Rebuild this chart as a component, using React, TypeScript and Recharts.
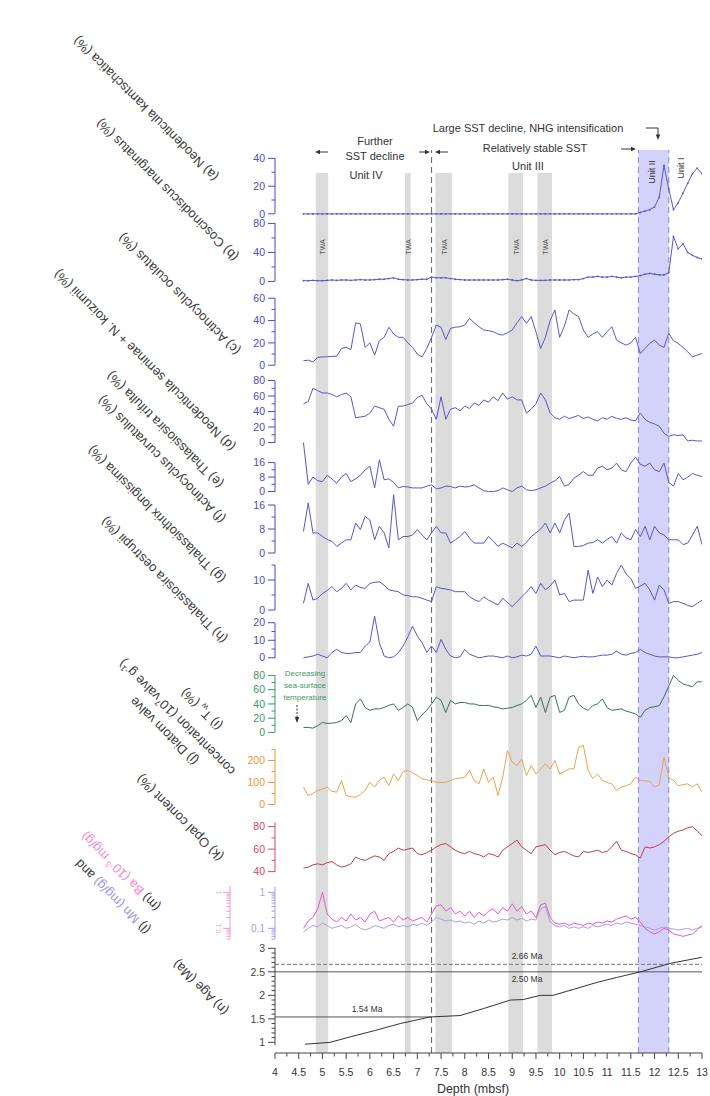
import React from 'react'
import { LineChart, Line, XAxis, YAxis, ReferenceArea, ReferenceLine } from 'recharts'

// depth grid (mbsf) shared by the diatom / geochem records
const DEPTH = [
  4.6, 4.7, 4.8, 4.9, 5.0, 5.1, 5.2, 5.3, 5.4, 5.5,
  5.6, 5.7, 5.8, 5.9, 6.0, 6.1, 6.2, 6.3, 6.4, 6.5,
  6.6, 6.7, 6.8, 6.9, 7.0, 7.1, 7.2, 7.3, 7.4, 7.5,
  7.6, 7.7, 7.8, 7.9, 8.0, 8.1, 8.2, 8.3, 8.4, 8.5,
  8.6, 8.7, 8.8, 8.9, 9.0, 9.1, 9.2, 9.3, 9.4, 9.5,
  9.6, 9.7, 9.8, 9.9, 10.0, 10.1, 10.2, 10.3, 10.4, 10.5,
  10.6, 10.7, 10.8, 10.9, 11.0, 11.1, 11.2, 11.3, 11.4, 11.5,
  11.6, 11.7, 11.8, 11.9, 12.0, 12.1, 12.2, 12.3, 12.4, 12.5,
  12.6, 12.7, 12.8, 12.9, 13.0,
]

const KAMTSCHATICA = [
  0, 0, 0, 0, 0, 0, 0, 0, 0, 0,
  0, 0, 0, 0, 0, 0, 0, 0, 0, 0,
  0, 0, 0, 0, 0, 0, 0, 0, 0, 0,
  0, 0, 0, 0, 0, 0, 0, 0, 0, 0,
  0, 0, 0, 0, 0, 0, 0, 0, 0, 0,
  0, 0, 0, 0, 0, 0, 0, 0, 0, 0,
  0, 0, 0, 0, 0, 0, 0, 0, 0, 0,
  0, 1, 2, 3, 5, 12, 35, 18, 3, 8,
  15, 22, 29, 33, 29,
]

const MARGINATUS = [
  1, 1, 1.5, 1, 1, 1.5, 2, 1.5, 2, 2,
  1.5, 2, 2.5, 2, 2, 2.5, 3, 3, 4, 5,
  3, 2.5, 2, 2, 2.5, 3, 3, 6, 5, 5,
  5, 4, 3, 2.5, 2, 2, 2, 2, 2, 2,
  2, 2, 2.5, 3, 2, 1, 2, 4, 2, 1.5,
  1.5, 1.5, 2, 2, 2, 2, 2, 2.5, 2.5, 4,
  6, 6, 7, 6, 6, 7, 6, 5, 6, 6,
  7, 8, 10, 11, 10, 9, 9, 12, 62, 45,
  52, 40, 36, 33, 31,
]

const OCULATUS = [
  4, 4.5, 3, 7, 7.5, 7.5, 8, 8, 15, 16,
  14, 38, 37, 16, 20, 9, 22, 25, 34, 28,
  25, 25, 20, 16, 10, 7.5, 15, 25, 36, 34,
  23, 33, 34, 34.5, 36, 42, 38, 34.5, 31.5, 31,
  30, 28, 27, 29, 31.5, 38, 43.5, 37.5, 43.5, 30,
  15, 25, 40, 49.5, 25, 35, 49.5, 46, 43.5, 31.5,
  25, 28, 30, 25, 30, 34.5, 22.5, 20, 18, 20,
  25, 10.5, 15, 19.5, 22.5, 18, 16, 28.5, 22, 19.5,
  16, 12, 7.5, 9, 10.5,
]

const SEMINAE = [
  50, 53, 70, 67, 64, 64, 62, 59, 62, 64,
  59, 32, 33, 34, 38, 47, 45, 43, 30, 21,
  47, 47, 49, 51, 58, 61, 50, 43, 30, 59,
  30, 43, 45, 41, 47, 44, 51, 48, 55, 52,
  59, 54, 64, 56, 59, 55, 55, 38, 43, 50,
  64, 55, 38, 32, 30, 34, 31, 33, 35, 31,
  33, 30, 28, 32, 30, 34, 31, 30, 32, 29,
  28, 38, 30, 26, 24, 21, 12, 8, 10, 9,
  10, 2, 3, 2, 2,
]

const TRIFULTA = [
  27, 4, 8, 6, 5.5, 9, 7, 4.6, 8, 10,
  5.5, 7, 9, 12, 14, 2, 17.5, 6.5, 7, 5,
  2, 2.8, 2.5, 2, 2, 2, 3, 3.7, 1.5, 2,
  3, 2.8, 2, 3, 2.5, 2.8, 3.7, 2, 0.5, 0,
  0, 0.5, 2, 1, 0, 2, 3, 1, 0.5, 1,
  2, 3, 4.6, 6, 8.3, 3, 4, 7.4, 9, 11,
  9, 9, 13, 14, 12, 13, 15.7, 12, 11, 15.7,
  19, 15, 14, 15.7, 12, 11, 15.7, 5, 3, 10,
  6.5, 8, 10, 9, 8.3,
]

const CURVATULUS = [
  7.2, 16.7, 6.7, 6.7, 5.5, 4.5, 3.9, 2.2, 3.3, 4.4,
  4.4, 10, 7.8, 12.2, 11, 4.4, 8.9, 6.7, 1.7, 19.4,
  4.4, 5.5, 5.5, 6, 7.8, 6, 4.4, 6.7, 8.9, 6.7,
  6.7, 3.3, 4.4, 5.5, 7.2, 5, 3.3, 3.3, 3.3, 5.5,
  4, 2.2, 3.3, 2.5, 1.7, 3.3, 2.2, 3.5, 5.5, 6.7,
  8, 10, 6.7, 10, 6.7, 11, 13.3, 2.2, 2.2, 2.5,
  3.3, 3.5, 4.4, 3.3, 4.5, 5.5, 3.3, 6.7, 5, 4.4,
  7.8, 5.5, 8.9, 4.4, 8.9, 6.7, 6, 4.4, 4.4, 4.4,
  2.8, 3.3, 6, 8.9, 2.8,
]

const LONGISSIMA = [
  2.2, 8.9, 3.3, 3.9, 5.5, 6.5, 7.8, 6.1, 7.2, 8.9,
  6.7, 8.3, 7.5, 7.2, 8.9, 9.2, 9.4, 8.3, 6.7, 6.4,
  6.1, 5, 4.8, 4.4, 4.4, 3.9, 3.3, 2.8, 7.8, 7.2,
  7, 6.7, 6.1, 6.1, 6.1, 4.4, 3.5, 2.8, 4.4, 3.3,
  2.5, 1.7, 3.9, 2.5, 1.1, 2.8, 4.4, 6, 7.8, 5.5,
  8.9, 6.7, 8, 10, 5, 5.5, 2.8, 3.3, 3.3, 3.3,
  13.3, 5.5, 11, 7.8, 10, 8.3, 12.2, 15, 12, 10.5,
  7.2, 8, 8.9, 6.7, 3.3, 8.3, 6.7, 2.2, 2.8, 2.8,
  2.2, 1.5, 1.1, 2.2, 3.3,
]

const OESTRUPII = [
  0, 0.5, 1, 2, 1, 0, 3, 4.8, 3, 2.5,
  2.5, 3, 3, 6.7, 9, 23.8, 8.6, 1, 0, 0.5,
  2.9, 6.7, 12, 18, 12.4, 8.6, 3, 6.7, 3, 10.5,
  4.8, 1, 0, 0.5, 4.8, 2, 1, 0, 0.5, 1,
  1, 0.5, 0, 1, 0, 0.5, 1.5, 1, 2, 6.7,
  1, 1, 1, 0.5, 0, 1, 0.5, 0, 0.5, 0.8,
  0.5, 0.5, 1, 1.5, 1.5, 2, 3.8, 2, 1.5, 2.5,
  3, 4.8, 3, 2, 1, 0.5, 0.5, 0.5, 0, 0,
  0.5, 1, 1.5, 2, 3,
]

const TW = [
  7, 7, 6, 9.4, 14, 12.7, 13, 14, 16.5, 23.6,
  14, 40, 47, 35, 31, 33, 33, 35, 38, 40,
  31, 35, 40, 35, 16.5, 25, 31, 40, 49.5, 45,
  28, 45, 40, 42, 42, 40, 40, 38, 37.7, 38,
  36, 35, 33, 34, 35, 37.7, 40, 45, 52, 35,
  49.5, 28, 49.5, 52, 28, 31, 49.5, 52, 40, 34,
  31, 37.7, 40, 47, 35, 31, 32, 33, 30, 28,
  26, 21, 31, 35, 36, 37.7, 50, 65, 80, 73,
  68, 66, 64, 71, 71,
]

const VALVES = [
  80, 40, 50, 64, 70, 79, 60, 56, 109, 41,
  35, 33, 45, 64, 101, 79, 110, 124, 86, 139,
  109, 150, 155, 145, 132, 117, 112, 109, 101, 100,
  101, 109, 117, 120, 124, 155, 109, 94, 162, 101,
  124, 41, 124, 245, 192, 177, 207, 132, 177, 139,
  162, 185, 162, 200, 139, 150, 162, 162, 260, 268,
  155, 117, 139, 109, 100, 94, 64, 79, 85, 94,
  124, 109, 108, 105, 79, 90, 215, 124, 109, 86,
  90, 94, 80, 94, 56,
]

const OPAL = [
  43, 44, 46, 47, 46, 48, 49, 46, 44, 45,
  47, 53, 51, 50, 52, 54, 53, 50, 56, 58,
  61, 59, 60, 61, 56, 55, 57, 59, 62, 64,
  65, 62, 59, 57, 56, 58, 56, 55, 53, 56,
  55, 53, 59, 62, 65, 68, 62, 59, 56, 62,
  63, 64, 59, 55, 57, 58, 56, 54, 53, 58,
  57, 58, 59, 57, 58, 62, 67, 59, 58, 56,
  55, 52, 62, 61, 62, 64, 67, 71, 74, 76,
  77, 79, 80, 76, 72,
]

// (l) lavender record and (m) pink record, log scale
const REC_L = [
  0.08, 0.1, 0.12, 0.11, 0.14, 0.12, 0.1, 0.11, 0.12, 0.1,
  0.11, 0.13, 0.1, 0.09, 0.1, 0.12, 0.11, 0.1, 0.12, 0.13,
  0.11, 0.12, 0.11, 0.13, 0.12, 0.14, 0.12, 0.15, 0.2, 0.18,
  0.16, 0.17, 0.15, 0.16, 0.14, 0.15, 0.13, 0.16, 0.14, 0.17,
  0.15, 0.16, 0.18, 0.17, 0.2, 0.17, 0.19, 0.16, 0.18, 0.17,
  0.35, 0.4, 0.15, 0.12, 0.11, 0.12, 0.1, 0.11, 0.1, 0.11,
  0.1, 0.12, 0.11, 0.12, 0.13, 0.12, 0.14, 0.13, 0.15, 0.14,
  0.13, 0.12, 0.11, 0.1, 0.09, 0.1, 0.11, 0.1, 0.095, 0.09,
  0.095, 0.1, 0.09, 0.1, 0.11,
]

const REC_M = [
  0.1, 0.16, 0.2, 0.35, 1.0, 0.25, 0.18, 0.15, 0.2, 0.16,
  0.25, 0.17, 0.2, 0.15, 0.25, 0.3, 0.16, 0.18, 0.2, 0.15,
  0.22, 0.17, 0.2, 0.16, 0.18, 0.2, 0.15, 0.25, 0.42, 0.45,
  0.3, 0.38, 0.25, 0.3, 0.22, 0.3, 0.2, 0.28, 0.22, 0.3,
  0.35, 0.25, 0.38, 0.3, 0.48, 0.3, 0.4, 0.25, 0.3, 0.2,
  0.45, 0.5, 0.2, 0.14, 0.13, 0.14, 0.12, 0.14, 0.13, 0.12,
  0.14, 0.13, 0.15, 0.14, 0.16, 0.15, 0.18, 0.2, 0.22, 0.18,
  0.2, 0.15, 0.1, 0.08, 0.07, 0.08, 0.1, 0.09, 0.07, 0.065,
  0.06, 0.065, 0.07, 0.09, 0.12,
]

// age model
const AGE_DEPTH = [4.63, 5.16, 5.6, 6.1, 6.64, 7.27, 7.9, 8.4, 8.96, 9.23, 9.59, 9.86, 10.3, 10.8, 11.2, 11.7, 12.33, 13.0]
const AGE_MA = [0.96, 1.0, 1.12, 1.25, 1.4, 1.54, 1.57, 1.72, 1.9, 1.91, 2.0, 2.0, 2.13, 2.28, 2.38, 2.5, 2.68, 2.81]
const AGE_TIES = [1.54, 2.5, 2.66]

const X_TICKS = [
  4, 4.25, 4.5, 4.75, 5, 5.25, 5.5, 5.75, 6, 6.25, 6.5, 6.75, 7, 7.25, 7.5, 7.75,
  8, 8.25, 8.5, 8.75, 9, 9.25, 9.5, 9.75, 10, 10.25, 10.5, 10.75, 11, 11.25,
  11.5, 11.75, 12, 12.25, 12.5, 12.75, 13,
]
const LOG_TICKS = [0.05, 0.06, 0.07, 0.08, 0.09, 0.1, 0.2, 0.3, 0.4, 0.5, 0.6, 0.7, 0.8, 0.9, 1]
const GREY_BANDS = [[4.86, 5.12], [6.74, 6.86], [7.38, 7.73], [8.92, 9.23], [9.53, 9.84]]
const BLUE_BAND = [11.66, 12.3]
const UNIT_BOUNDARY = 7.3

const W = 710
const H = 1096
const PLOT_LEFT = 275
const RIGHT = 8
const FONT = '"Liberation Sans", Arial, sans-serif'
const BLUE = '#5656cc'
const BLUE_TXT = '#4b4bc2'
const TXT = '#3a3a3a'

const px = (d: number) => PLOT_LEFT + ((d - 4) * (W - RIGHT - PLOT_LEFT)) / 9

type PanelCfg = {
  values: number[]
  color: string
  tickColor: string
  base: number
  basePx: number
  refV: number
  refPx: number
  lo: number
  hi: number
  ticks: number[]
  labels: number[]
  axis: [number, number]
  dots?: boolean
}

// y-axis tick: short minor ticks, longer labelled ticks
function makeYTick(color: string, labels: number[], fontSize = 10.5, rotate = false) {
  return (props: any) => {
    const { x, y, payload } = props
    const v = payload.value as number
    const major = labels.includes(v)
    return (
      <g>
        <line x1={x + (major ? 0 : 3.5)} x2={x + 7} y1={y} y2={y} stroke={color} strokeWidth={1} />
        {major &&
          (rotate ? (
            <text transform={`translate(${x - 2},${y}) rotate(-90)`} textAnchor="middle" fontSize={fontSize} fill={color} fontFamily={FONT}>
              {String(v)}
            </text>
          ) : (
            <text x={x - 3} y={y} dy="0.35em" textAnchor="end" fontSize={fontSize} fill={color} fontFamily={FONT}>
              {String(v)}
            </text>
          ))}
      </g>
    )
  }
}

const scaleOf = (cfg: PanelCfg) => (cfg.basePx - cfg.refPx) / (cfg.refV - cfg.base)
const yOf = (cfg: PanelCfg, v: number) => cfg.basePx - (v - cfg.base) * scaleOf(cfg)

function Panel({ cfg, rows, children }: { cfg: PanelCfg; rows?: any[]; children?: React.ReactNode }) {
  const k = scaleOf(cfg)
  const top = yOf(cfg, cfg.hi)
  const height = (cfg.hi - cfg.lo) * k
  const data = rows ?? DEPTH.map((d, i) => ({ depth: d, v: cfg.values[i] }))
  return (
    <div style={{ position: 'absolute', left: 0, top, width: W, height }}>
      <LineChart width={W} height={height} data={data} margin={{ top: 0, right: RIGHT, bottom: 0, left: PLOT_LEFT - 40 }}>
        <XAxis dataKey="depth" type="number" domain={[4, 13]} allowDataOverflow hide />
        <YAxis
          type="number"
          domain={[cfg.lo, cfg.hi]}
          allowDataOverflow
          ticks={cfg.ticks}
          interval={0}
          width={40}
          axisLine={false}
          tickLine={false}
          tickSize={7}
          tickMargin={0}
          tick={makeYTick(cfg.tickColor, cfg.labels)}
        />
        {children}
        <Line
          type="linear"
          dataKey="v"
          stroke={cfg.color}
          strokeWidth={1}
          dot={cfg.dots ? { r: 0.9, fill: cfg.color, stroke: 'none' } : false}
          isAnimationActive={false}
        />
      </LineChart>
    </div>
  )
}

const PANELS: PanelCfg[] = [
  { values: KAMTSCHATICA, color: BLUE, tickColor: BLUE_TXT, base: 0, basePx: 213.5, refV: 40, refPx: 158, lo: -1, hi: 41, ticks: [0, 10, 20, 30, 40], labels: [0, 20, 40], axis: [0, 40], dots: true },
  { values: MARGINATUS, color: BLUE, tickColor: BLUE_TXT, base: 0, basePx: 281, refV: 80, refPx: 223, lo: -2, hi: 82, ticks: [0, 20, 40, 60, 80], labels: [0, 40, 80], axis: [0, 80], dots: true },
  { values: OCULATUS, color: BLUE, tickColor: BLUE_TXT, base: 0, basePx: 365, refV: 60, refPx: 298, lo: -2, hi: 62, ticks: [0, 10, 20, 30, 40, 50, 60], labels: [0, 20, 40, 60], axis: [0, 60] },
  { values: SEMINAE, color: BLUE, tickColor: BLUE_TXT, base: 0, basePx: 443, refV: 80, refPx: 381, lo: -2, hi: 82, ticks: [0, 10, 20, 30, 40, 50, 60, 70, 80], labels: [0, 20, 40, 60, 80], axis: [0, 80] },
  { values: TRIFULTA, color: BLUE, tickColor: BLUE_TXT, base: 0, basePx: 492, refV: 16, refPx: 463, lo: -1, hi: 29, ticks: [0, 4, 8, 12, 16], labels: [0, 8, 16], axis: [0, 16] },
  { values: CURVATULUS, color: BLUE, tickColor: BLUE_TXT, base: 0, basePx: 553, refV: 16, refPx: 505, lo: -0.5, hi: 20, ticks: [0, 4, 8, 12, 16], labels: [0, 8, 16], axis: [0, 16] },
  { values: LONGISSIMA, color: BLUE, tickColor: BLUE_TXT, base: 0, basePx: 610, refV: 10, refPx: 580, lo: -0.5, hi: 16, ticks: [0, 5, 10, 15], labels: [0, 10], axis: [0, 15] },
  { values: OESTRUPII, color: BLUE, tickColor: BLUE_TXT, base: 0, basePx: 658, refV: 20, refPx: 623, lo: -1, hi: 25, ticks: [0, 5, 10, 15, 20], labels: [0, 10, 20], axis: [0, 20] },
  { values: TW, color: '#3d6e52', tickColor: '#3c9a62', base: 0, basePx: 732, refV: 80, refPx: 675, lo: -2, hi: 82, ticks: [0, 10, 20, 30, 40, 50, 60, 70, 80], labels: [0, 20, 40, 60, 80], axis: [0, 80] },
  { values: VALVES, color: '#e9a24e', tickColor: '#e79a3a', base: 0, basePx: 804, refV: 200, refPx: 760, lo: -5, hi: 275, ticks: [0, 50, 100, 150, 200, 250], labels: [0, 100, 200], axis: [0, 250] },
  { values: OPAL, color: '#b8404c', tickColor: '#d24a5a', base: 40, basePx: 872, refV: 80, refPx: 827, lo: 38, hi: 85, ticks: [40, 50, 60, 70, 80], labels: [40, 60, 80], axis: [40, 84] },
]

const AGE_CFG: PanelCfg = {
  values: AGE_MA, color: '#333', tickColor: '#444', base: 1, basePx: 1042, refV: 3, refPx: 948, lo: 0.9, hi: 3.05,
  ticks: [1, 1.1, 1.2, 1.3, 1.4, 1.5, 1.6, 1.7, 1.8, 1.9, 2, 2.1, 2.2, 2.3, 2.4, 2.5, 2.6, 2.7, 2.8, 2.9, 3],
  labels: [1, 1.5, 2, 2.5, 3], axis: [0.93, 3],
}

function AgePanel() {
  const rows = AGE_DEPTH.map((d, i) => ({ depth: d, v: AGE_MA[i] }))
  return (
    <Panel cfg={AGE_CFG} rows={rows}>
      <ReferenceLine y={AGE_TIES[2]} stroke="#777" strokeDasharray="4 2" />
      <ReferenceLine y={AGE_TIES[1]} stroke="#555" />
      <ReferenceLine segment={[{ x: 4, y: AGE_TIES[0] }, { x: UNIT_BOUNDARY, y: AGE_TIES[0] }]} stroke="#555" />
    </Panel>
  )
}

// log panel geometry: 1 -> 892 px, 0.1 -> 928 px
const LOG_DEC = 36
const LOG_TOP = 892 - LOG_DEC * Math.log10(1.5)
const logY = (v: number) => 892 - LOG_DEC * Math.log10(v)

function LogPanel() {
  const height = LOG_DEC * Math.log10(1.5 / 0.05)
  const rows = DEPTH.map((d, i) => ({ depth: d, l: REC_L[i], m: REC_M[i] }))
  return (
    <div style={{ position: 'absolute', left: 0, top: LOG_TOP, width: W, height }}>
      <LineChart width={W} height={height} data={rows} margin={{ top: 0, right: RIGHT, bottom: 0, left: PLOT_LEFT - 45 - 22 }}>
        <XAxis dataKey="depth" type="number" domain={[4, 13]} allowDataOverflow hide />
        <YAxis yAxisId="l" scale="log" type="number" domain={[0.05, 1.5]} allowDataOverflow ticks={LOG_TICKS} interval={0} width={45}
          axisLine={false} tickLine={false} tickSize={7} tickMargin={0} tick={makeYTick('#a79ded', [0.1, 1], 10)} />
        <YAxis yAxisId="m" scale="log" type="number" domain={[0.05, 1.5]} allowDataOverflow ticks={LOG_TICKS} interval={0} width={22}
          axisLine={false} tickLine={false} tickSize={7} tickMargin={0} tick={makeYTick('#f09ad8', [0.1, 1], 7, true)} />
        <Line yAxisId="l" type="linear" dataKey="l" stroke="#a79ded" strokeWidth={1} dot={false} isAnimationActive={false} />
        <Line yAxisId="m" type="linear" dataKey="m" stroke="#e458c6" strokeWidth={1} dot={false} isAnimationActive={false} />
      </LineChart>
    </div>
  )
}

function DepthTick(props: any) {
  const { x, y, payload } = props
  const v = payload.value as number
  const major = Number.isInteger(v * 2)
  const axisY = y - 8
  return (
    <g>
      <line x1={x} x2={x} y1={axisY} y2={axisY + (major ? 6 : 3.5)} stroke="#444" />
      {major && (
        <text x={x} y={axisY + 23} textAnchor="middle" fontSize={10.5} fill="#333" fontFamily={FONT}>
          {String(v)}
        </text>
      )}
    </g>
  )
}

function Frame() {
  const rows = DEPTH.map((d) => ({ depth: d, y: 0 }))
  return (
    <div style={{ position: 'absolute', left: 0, top: 0 }}>
      <LineChart width={W} height={H} data={rows} margin={{ top: 150, right: RIGHT, bottom: 0, left: PLOT_LEFT }}>
        <XAxis dataKey="depth" type="number" domain={[4, 13]} allowDataOverflow ticks={X_TICKS} interval={0} height={43}
          stroke="#444" tickLine={false} tickSize={6} tickMargin={2} tick={<DepthTick />} />
        <YAxis type="number" domain={[0, 903]} allowDataOverflow hide />
        {GREY_BANDS.map(([a, b]) => (
          <ReferenceArea key={a} ifOverflow="visible" x1={a} x2={b} y1={0} y2={880} fill="#dcdcdc" fillOpacity={1} stroke="none" />
        ))}
        <ReferenceArea ifOverflow="visible" x1={BLUE_BAND[0]} x2={BLUE_BAND[1]} y1={0} y2={903} fill="#d2d2fa" fillOpacity={1} stroke="none" />
        <ReferenceLine ifOverflow="visible" x={UNIT_BOUNDARY} stroke="#666" strokeDasharray="6 4" />
        <ReferenceLine ifOverflow="visible" x={BLUE_BAND[0]} stroke="#8585d6" strokeDasharray="6 4" />
        <ReferenceLine ifOverflow="visible" x={BLUE_BAND[1]} stroke="#8585d6" strokeDasharray="6 4" />
        <Line dataKey="y" stroke="none" dot={false} activeDot={false} isAnimationActive={false} />
      </LineChart>
    </div>
  )
}

const LABELS: { x: number; y: number; parts: { t: string; c?: string; sub?: boolean; sup?: boolean }[] }[] = [
  { x: 219, y: 176, parts: [{ t: '(a) Neodenticula kamtschatica (%)' }] },
  { x: 239, y: 256, parts: [{ t: '(b) Coscinodiscus marginatus (%)' }] },
  { x: 241, y: 350, parts: [{ t: '(c) Actinocyclus oculatus (%)' }] },
  { x: 236, y: 446, parts: [{ t: '(d) Neodenticula seminae + N. koizumii (%)' }] },
  { x: 224, y: 483, parts: [{ t: '(e) Thalassiosira trifulta (%)' }] },
  { x: 226, y: 518, parts: [{ t: '(f) Actinocyclus curvatulus (%)' }] },
  { x: 226, y: 578, parts: [{ t: '(g) Thalassiothrix longissima (%)' }] },
  { x: 228, y: 638, parts: [{ t: '(h) Thalassiosira oestrupii (%)' }] },
  { x: 223, y: 725, parts: [{ t: '(i) T' }, { t: 'w', sub: true }, { t: ' (%)' }] },
  { x: 199, y: 760, parts: [{ t: '(j) Diatom valve' }] },
  { x: 236, y: 770, parts: [{ t: 'concentration (10' }, { t: '7', sup: true }, { t: 'valve g' }, { t: '-1', sup: true }, { t: ')' }] },
  { x: 224, y: 856, parts: [{ t: '(k) Opal content (%)' }] },
  { x: 151, y: 929, parts: [{ t: '(l) ' }, { t: 'Mn (mg/g)', c: '#9f95ea' }, { t: ' and' }] },
  { x: 161, y: 906, parts: [{ t: '(m) ' }, { t: 'Ba (10', c: '#f08ccc' }, { t: '-3', c: '#f08ccc', sup: true }, { t: ' mg/g)', c: '#f08ccc' }] },
  { x: 229, y: 1010, parts: [{ t: '(n) Age (Ma)' }] },
]

function Arrow({ x1, x2, y }: { x1: number; x2: number; y: number }) {
  const dir = x2 > x1 ? 1 : -1
  return (
    <g stroke="#333" fill="#333">
      <line x1={x1} x2={x2 - dir * 3} y1={y} y2={y} strokeWidth={1} />
      <path d={`M ${x2} ${y} L ${x2 - dir * 5} ${y - 2.2} L ${x2 - dir * 5} ${y + 2.2} Z`} stroke="none" />
    </g>
  )
}

function Overlay() {
  const brackets = [...PANELS, AGE_CFG].map((c) => ({ y1: yOf(c, c.axis[0]), y2: yOf(c, c.axis[1]), color: c.tickColor }))
  return (
    <svg width={W} height={H} style={{ position: 'absolute', left: 0, top: 0, pointerEvents: 'none' }} fontFamily={FONT}>
      {/* axis spines */}
      {brackets.map((b, i) => (
        <line key={i} x1={PLOT_LEFT} x2={PLOT_LEFT} y1={b.y1} y2={b.y2} stroke={b.color} strokeWidth={1} />
      ))}
      <line x1={PLOT_LEFT} x2={PLOT_LEFT} y1={logY(0.05)} y2={logY(1.4)} stroke="#a79ded" />
      <line x1={PLOT_LEFT - 45} x2={PLOT_LEFT - 45} y1={logY(0.05)} y2={logY(1.5)} stroke="#f09ad8" />

      {LABELS.map((l, i) => (
        <text key={i} transform={`translate(${l.x},${l.y}) rotate(225)`} fontSize={13} fill={TXT}>
          {l.parts.map((p, j) => (
            <tspan key={j} fill={p.c ?? TXT} fontSize={p.sub || p.sup ? 8.5 : 13} baselineShift={p.sub ? -3 : p.sup ? 5 : undefined}>
              {p.t}
            </tspan>
          ))}
        </text>
      ))}

      {/* header annotations */}
      <text x={528} y={132} textAnchor="middle" fontSize={11} fill="#333">Large SST decline, NHG intensification</text>
      <path d="M 646 128 H 658 V 135" fill="none" stroke="#333" />
      <path d="M 658 140 L 655.8 134.5 L 660.2 134.5 Z" fill="#333" />
      <text x={375} y={145} textAnchor="middle" fontSize={11} fill="#333">Further</text>
      <text x={375} y={160} textAnchor="middle" fontSize={11} fill="#333">SST decline</text>
      <text x={366} y={179} textAnchor="middle" fontSize={11} fill="#333">Unit IV</text>
      <Arrow x1={328} x2={315} y={152} />
      <Arrow x1={419} x2={430} y={152} />
      <Arrow x1={448} x2={435} y={152} />
      <text x={535} y={152} textAnchor="middle" fontSize={11} fill="#333">Relatively stable SST</text>
      <Arrow x1={621} x2={636} y={149} />
      <text x={528} y={170} textAnchor="middle" fontSize={11} fill="#333">Unit III</text>
      <text transform="translate(655,172) rotate(-90)" textAnchor="middle" fontSize={9} fill="#333">Unit II</text>
      <text transform="translate(684,168) rotate(-90)" textAnchor="middle" fontSize={9} fill="#333">Unit I</text>

      {GREY_BANDS.map(([a, b]) => (
        <text key={a} transform={`translate(${px((a + b) / 2) + 3},247) rotate(-90)`} textAnchor="middle" fontSize={7} fill="#555">TWA</text>
      ))}

      {/* SST note */}
      <text x={305} y={676} textAnchor="middle" fontSize={8} fill="#3c9a62">Decreasing</text>
      <text x={305} y={688} textAnchor="middle" fontSize={8} fill="#3c9a62">sea-surface</text>
      <text x={305} y={700} textAnchor="middle" fontSize={8} fill="#3c9a62">temperature</text>
      <line x1={297} x2={297} y1={705} y2={717} stroke="#333" strokeDasharray="2 1.5" />
      <path d="M 297 723 L 294.8 717 L 299.2 717 Z" fill="#333" />

      {/* age ties */}
      <text x={527} y={959} textAnchor="middle" fontSize={8.5} fill="#333">2.66 Ma</text>
      <text x={527} y={982} textAnchor="middle" fontSize={8.5} fill="#333">2.50 Ma</text>
      <text x={367} y={1012} textAnchor="middle" fontSize={8.5} fill="#333">1.54 Ma</text>

      <text x={473} y={1093} textAnchor="middle" fontSize={12.5} fill="#333">Depth (mbsf)</text>
    </svg>
  )
}

export default function App() {
  return (
    <div style={{ position: 'absolute', left: 0, top: 0, width: W, height: H, background: '#fff', fontFamily: FONT }}>
      <style>{'.recharts-surface{overflow:visible}'}</style>
      <Frame />
      {PANELS.map((p, i) => (
        <Panel key={i} cfg={p} />
      ))}
      <LogPanel />
      <AgePanel />
      <Overlay />
    </div>
  )
}
